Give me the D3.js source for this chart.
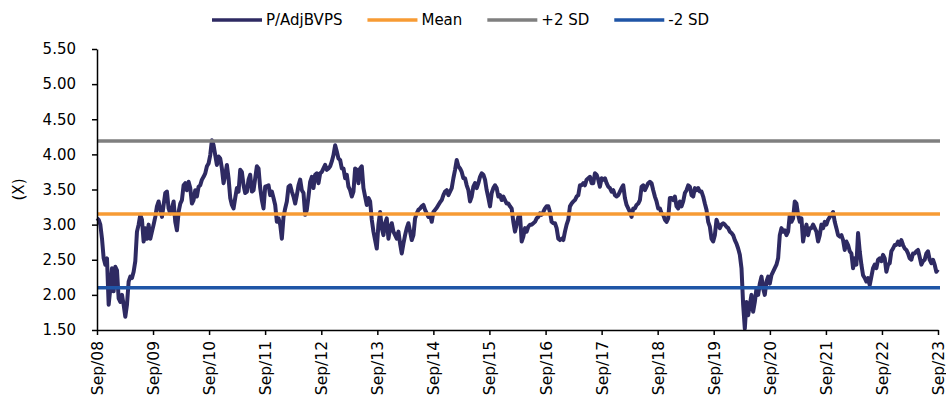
<!DOCTYPE html>
<html>
<head>
<meta charset="utf-8">
<script src="https://cdn.jsdelivr.net/npm/d3@7"></script>
<style>
  body { margin: 0; background: #fff; }
  text { font-family: "DejaVu Sans", Verdana, sans-serif; fill: #000; }
</style>
</head>
<body>
<svg id="chart"></svg>
<script>
// P/AdjBVPS band chart, Sep/08 - Sep/23 (~every 11 days)
var startDate = "2008-09-01", endDate = "2023-09-01";
var meanValue = 3.15, plus2SD = 4.19, minus2SD = 2.10;
var yTicks = [1.5, 2.0, 2.5, 3.0, 3.5, 4.0, 4.5, 5.0, 5.5];
var seriesNames = ["P/AdjBVPS", "Mean", "+2 SD", "-2 SD"];
var seriesColors = ["#2e2a62", "#f79b34", "#7f7f7f", "#1f55a6"];

var pb2008 = [3.09,3.07,3.00,2.80,2.52,2.43,2.52,1.86,2.09,2.38,
  2.05,2.40,2.35,1.95,1.90,2.00,1.86,1.69,1.86,2.19,
  2.26,2.24,2.33,2.48,2.90,3.00,3.14,3.07,2.76,2.95,
  2.80,3.00,2.80,2.90,3.00,3.11,3.26,3.33,3.21,3.11,
  3.28,3.45,3.47,3.23,3.16,3.23,3.33,3.04,2.92,3.18,
  3.30,3.35,3.56,3.59,3.49,3.61,3.52,3.30,3.35,3.49,
  3.40,3.54,3.56,3.64,3.68,3.73,3.83,3.87,3.99,4.20,
  4.13,3.99,3.85,3.97,3.94,3.80,3.59,3.71,3.85,3.66,
  3.38,3.28,3.23,3.38,3.52,3.47,3.78,3.75,3.56,3.45,
  3.47,3.64,3.71,3.47,3.49,3.66,3.83,3.80,3.52,3.35,
  3.23];
var pb2011 = [3.54,3.55,3.56,3.42,3.47,3.38,3.28,3.04,3.09,3.00,
  2.80,3.11,3.23,3.33,3.54,3.56,3.47,3.40,3.30,3.42,
  3.56,3.64,3.49,3.45,3.14,3.21,3.40,3.61,3.68,3.52,
  3.71,3.73,3.59,3.73,3.75,3.80,3.85,3.78,3.80,3.83,
  3.90,3.99,4.13,4.04,3.94,3.92,3.80,3.80,3.66,3.71,
  3.54,3.49,3.40,3.47,3.80,3.78,3.59,3.80,3.83,3.52,
  3.40,3.28,3.38,3.33,3.07,2.90,2.78,2.66,3.00,3.18,
  2.95,2.85,3.02,3.09,2.80,2.95,3.02,2.90,2.85,2.80,
  2.90,2.73,2.59,2.73,2.85,2.95,3.02,2.90,2.78,2.85,
  3.09,3.16,3.21,3.23,3.26,3.28,3.21,3.16,3.11,3.14,
  3.04,3.18];
var pb2014 = [3.21,3.24,3.28,3.32,3.35,3.42,3.47,3.49,3.42,3.47,
  3.52,3.66,3.78,3.92,3.83,3.80,3.75,3.66,3.66,3.56,
  3.49,3.33,3.40,3.54,3.59,3.52,3.59,3.68,3.73,3.71,
  3.64,3.49,3.38,3.26,3.45,3.52,3.56,3.52,3.40,3.42,
  3.35,3.40,3.35,3.30,3.30,3.26,3.23,3.04,2.90,3.00,
  3.11,3.14,2.76,2.83,2.95,2.90,2.97,3.00,3.00,3.02,
  3.04,3.09,3.11,3.16,3.14,3.18,3.23,3.26,3.26,3.18,
  3.04,3.02,3.02,2.95,2.80,2.78,2.80,2.78,2.90,3.00,
  3.07,3.26,3.30,3.33,3.35,3.40,3.42,3.56,3.56,3.59,
  3.56,3.64,3.66,3.68,3.59,3.59,3.73,3.71,3.64,3.54,
  3.66,3.64];
var pb2017 = [3.66,3.59,3.54,3.52,3.47,3.49,3.42,3.40,3.42,3.47,
  3.52,3.56,3.38,3.28,3.23,3.18,3.11,3.23,3.23,3.28,
  3.30,3.35,3.54,3.56,3.49,3.54,3.59,3.61,3.59,3.49,
  3.40,3.33,3.23,3.23,3.16,3.14,3.07,3.04,3.09,3.38,
  3.38,3.35,3.40,3.26,3.23,3.33,3.26,3.33,3.45,3.49,
  3.56,3.54,3.42,3.40,3.52,3.49,3.52,3.47,3.47,3.40,
  3.30,3.21,3.04,2.97,2.80,2.76,2.85,3.07,3.00,2.95,
  3.00,3.02,3.00,2.97,2.95,2.90,2.88,2.85,2.78,2.73,
  2.66,2.57,2.38,1.86,1.52,1.90,1.71,1.86,2.00,1.76,
  1.90,2.09,2.00,2.16,2.26,2.09,2.00,2.19,2.26,2.16,
  2.28,2.33];
var pb2020 = [2.38,2.43,2.52,2.85,2.95,2.90,2.92,2.85,2.90,3.14,
  3.04,3.09,3.33,3.30,3.14,3.04,3.09,2.76,2.90,3.00,
  2.85,2.95,2.95,3.00,2.95,2.90,2.76,2.85,3.00,2.95,
  3.04,3.00,3.07,3.11,3.14,3.18,3.04,2.95,2.85,2.83,
  2.85,2.78,2.64,2.76,2.71,2.62,2.59,2.38,2.52,2.43,
  2.88,2.62,2.43,2.28,2.24,2.19,2.24,2.14,2.26,2.38,
  2.43,2.38,2.50,2.52,2.48,2.57,2.52,2.33,2.43,2.45,
  2.62,2.66,2.71,2.71,2.76,2.71,2.78,2.71,2.66,2.64,
  2.59,2.52,2.50,2.59,2.59,2.62,2.64,2.54,2.43,2.48,
  2.50,2.59,2.62,2.50,2.45,2.50,2.43,2.33,2.36];

var pbValues = pb2008.concat(pb2011, pb2014, pb2017, pb2020);

var W = 946, H = 397;
var margin = {top: 49, right: 8, bottom: 67, left: 97};

var svg = d3.select("#chart").attr("width", W).attr("height", H);

var t0 = new Date(startDate + "T00:00:00"), t1 = new Date(endDate + "T00:00:00");
var step = (t1 - t0) / (pbValues.length - 1);
var data = pbValues.map(function(v, i) { return {date: new Date(+t0 + i * step), value: v}; });

var x = d3.scaleTime().domain([t0, t1]).range([margin.left, W - margin.right]);
var y = d3.scaleLinear().domain([1.5, 5.5]).range([H - margin.bottom, margin.top]);

// main series
var line = d3.line()
    .x(function(d) { return x(d.date); })
    .y(function(d) { return y(d.value); });

svg.append("path")
    .datum(data)
    .attr("fill", "none")
    .attr("stroke", seriesColors[0])
    .attr("stroke-width", 4)
    .attr("stroke-linejoin", "round")
    .attr("d", line);

// mean and +/-2 SD bands
var bands = [meanValue, plus2SD, minus2SD];
bands.forEach(function(v, i) {
    svg.append("line")
        .attr("x1", x(t0)).attr("x2", x(t1) + 2)
        .attr("y1", y(v)).attr("y2", y(v))
        .attr("stroke", seriesColors[i + 1])
        .attr("stroke-width", 3.5);
});

// y axis
var yAxis = svg.append("g")
    .attr("transform", "translate(" + margin.left + ",0)")
    .call(d3.axisLeft(y).tickValues(yTicks).tickFormat(d3.format(".2f")).tickSize(5).tickPadding(16).tickSizeOuter(0));
yAxis.selectAll("text").style("font-size", "15px").attr("fill", "#000");
yAxis.select(".domain").attr("stroke", "#000").attr("stroke-width", 1.5);
yAxis.selectAll(".tick line").attr("stroke", "#000").attr("stroke-width", 1.5);

svg.append("text")
    .attr("transform", "translate(19," + y(3.5) + ") rotate(-90)")
    .attr("text-anchor", "middle")
    .attr("dy", "0.35em")
    .style("font-size", "15px")
    .text("(X)");

// x axis
var xTicks = d3.range(2008, 2024).map(function(yr) { return new Date(yr, 8, 1); });
var xAxis = svg.append("g")
    .attr("transform", "translate(0," + (H - margin.bottom) + ")")
    .call(d3.axisBottom(x).tickValues(xTicks).tickFormat(d3.timeFormat("%b/%y")).tickSize(5).tickSizeOuter(0));
xAxis.select(".domain").attr("stroke", "#000").attr("stroke-width", 1.5);
xAxis.selectAll(".tick line").attr("stroke", "#000").attr("stroke-width", 1.5);
xAxis.selectAll("text")
    .style("font-size", "15.5px")
    .attr("fill", "#000")
    .attr("text-anchor", "end")
    .attr("transform", "rotate(-90)")
    .attr("x", -11)
    .attr("y", 0)
    .attr("dy", "0.35em");

// legend
var legend = svg.append("g").attr("transform", "translate(212,20)");
var lx = 0;
seriesNames.forEach(function(name, i) {
    var g = legend.append("g").attr("transform", "translate(" + lx + ",0)");
    g.append("line")
        .attr("x1", 0).attr("x2", 50)
        .attr("stroke", seriesColors[i])
        .attr("stroke-width", 3.5);
    var t = g.append("text")
        .attr("x", 54)
        .attr("dy", "0.35em")
        .style("font-size", "15px")
        .text(name);
    lx += 54 + t.node().getComputedTextLength() + 25;
});
</script>
</body>
</html>
